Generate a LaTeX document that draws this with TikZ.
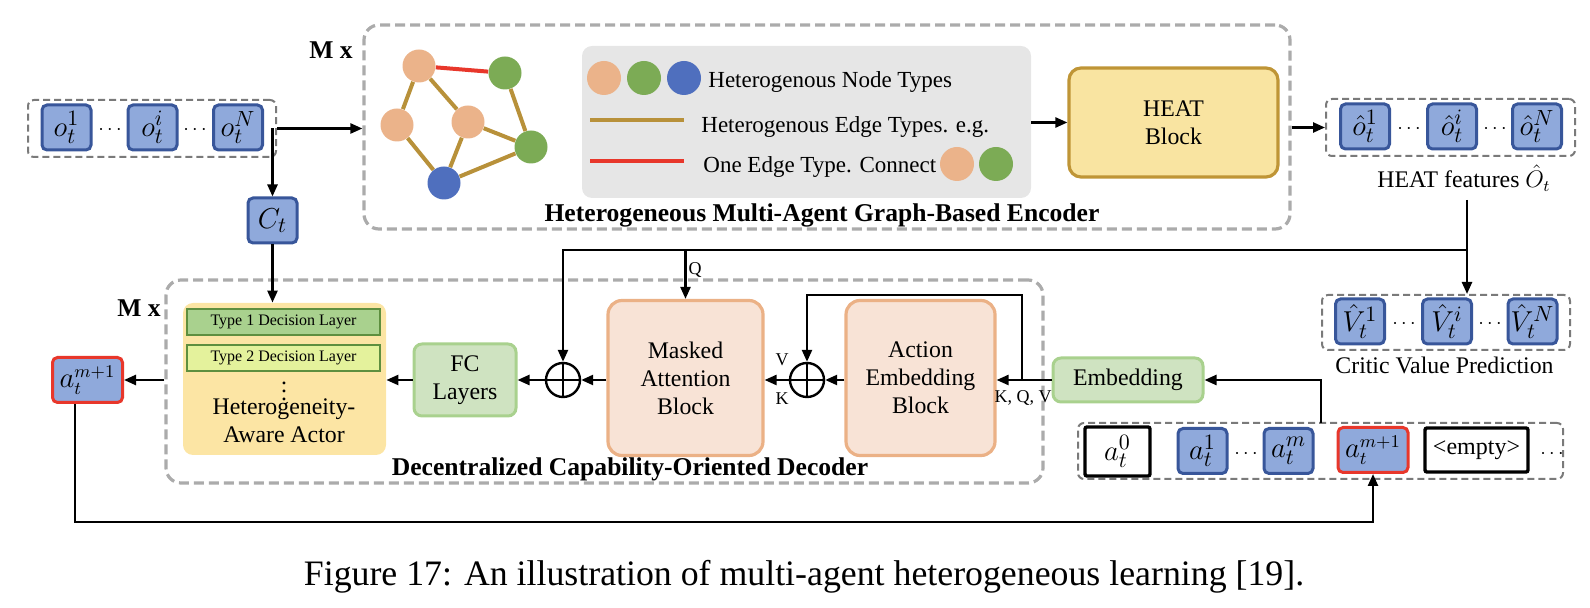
\documentclass[tikz,border=0pt]{standalone}
\usepackage{fontspec}
\setmainfont{Liberation Serif}
\usetikzlibrary{arrows.meta,calc}
\definecolor{bfill}{HTML}{8FA9DB}
\definecolor{bdraw}{HTML}{38569A}
\definecolor{redb}{HTML}{E8372B}
\definecolor{gdash}{HTML}{ABABAB}
\definecolor{gdash2}{HTML}{7A7A7A}
\definecolor{corange}{HTML}{EBB38A}
\definecolor{cgreen}{HTML}{7CAB55}
\definecolor{cblue}{HTML}{4F6FBE}
\definecolor{gold}{HTML}{B8913A}
\definecolor{legbg}{HTML}{E6E6E6}
\definecolor{heatfill}{HTML}{F9E4A1}
\definecolor{heatdraw}{HTML}{BF9536}
\definecolor{actfill}{HTML}{FCE5A4}
\definecolor{tonefill}{HTML}{A9D18E}
\definecolor{ttwofill}{HTML}{E4F29C}
\definecolor{tdraw}{HTML}{5E8F3F}
\definecolor{fcfill}{HTML}{CFE3C1}
\definecolor{fcdraw}{HTML}{A9D18E}
\definecolor{pfill}{HTML}{F8E3D6}
\definecolor{pdraw}{HTML}{EBB186}
\begin{document}
\begin{tikzpicture}[x=0.5pt,y=-0.5pt,
  font=\fontsize{11.9}{14}\selectfont,
  arr/.style={line width=1.2pt,-{Triangle[length=6pt,width=5pt]}},
  bigdash/.style={draw=gdash,line width=1.6pt,dash pattern=on 5pt off 2.5pt,rounded corners=7.5pt,inner sep=0pt},
  smalldash/.style={draw=gdash2,line width=1pt,dash pattern=on 3.5pt off 2pt,rounded corners=3pt,inner sep=0pt},
  vbox/.style={draw=bdraw,fill=bfill,line width=1.5pt,rounded corners=2.5pt,minimum width=24.5pt,minimum height=22.5pt,inner sep=0pt,font=\fontsize{15}{15}\selectfont},
  rbox/.style={vbox,draw=redb,minimum width=35pt,font=\fontsize{13.5}{13.5}\selectfont},
  wbox/.style={draw=black,fill=white,line width=1.7pt,rounded corners=1pt,minimum height=22pt,inner sep=0pt,font=\fontsize{15}{15}\selectfont},
  dotsn/.style={inner sep=0pt,font=\fontsize{10}{10}\selectfont},
  gnode/.style={circle,minimum size=16.5pt,inner sep=0pt},
  gedge/.style={gold,line width=2pt},
  redge/.style={redb,line width=2pt},
  legtext/.style={anchor=base west,inner sep=0pt,font=\fontsize{11.5}{14}\selectfont},
  boldlab/.style={font=\fontsize{12.8}{14}\selectfont\bfseries},
  smalllab/.style={font=\fontsize{9}{10}\selectfont,inner sep=1pt},
  fcstyle/.style={draw=fcdraw,fill=fcfill,line width=1.5pt,rounded corners=4pt,inner sep=0pt,align=center},
  pblk/.style={draw=pdraw,fill=pfill,line width=1.6pt,rounded corners=7pt,inner sep=0pt,align=center},
  oplus/.style={circle,draw,line width=1.2pt,minimum size=17pt,inner sep=0pt,
    path picture={\draw[line width=1.2pt] (path picture bounding box.north) -- (path picture bounding box.south)
      (path picture bounding box.west) -- (path picture bounding box.east);}},
  layer/.style={draw=tdraw,line width=0.8pt,minimum width=96.5pt,minimum height=13pt,inner sep=0pt,font=\fontsize{8}{9}\selectfont}
]
\useasboundingbox (0,0) rectangle (1590,608);

% ---------- big dashed boxes ----------
\node[bigdash,minimum width=463pt,minimum height=102pt] (enc) at (827,127) {};
\node[bigdash,minimum width=438.5pt,minimum height=101.5pt] (dec) at (604.5,381.5) {};

% ---------- observations ----------
\node[smalldash,minimum width=124pt,minimum height=28.5pt] (obs) at (152,128.5) {};
\node[vbox] (o1) at (66.5,127.5) {$o_t^1$};
\node[dotsn] (od1) at (110,130) {$\cdots$};
\node[vbox] (oi) at (152.5,127.5) {$o_t^i$};
\node[dotsn] (od2) at (195,130) {$\cdots$};
\node[vbox] (oN) at (238,127.5) {$o_t^N$};
\node[vbox] (ct) at (272.5,220.5) {$C_t$};

% ---------- encoder ----------
\node[boldlab] (mx1) at (331,50) {M x};
\node[gnode,fill=corange] (g1) at (419,66) {};
\node[gnode,fill=cgreen] (g2) at (505,73) {};
\node[gnode,fill=corange] (g3) at (397,125) {};
\node[gnode,fill=corange] (g4) at (468,122) {};
\node[gnode,fill=cgreen] (g5) at (531,147) {};
\node[gnode,fill=cblue] (g6) at (444,183) {};
\draw[redge] (g1) -- (g2);
\draw[gedge] (g1) -- (g3);
\draw[gedge] (g1) -- (g4);
\draw[gedge] (g2) -- (g5);
\draw[gedge] (g3) -- (g6);
\draw[gedge] (g4) -- (g6);
\draw[gedge] (g4) -- (g5);
\draw[gedge] (g6) -- (g5);

\node[fill=legbg,rounded corners=5pt,minimum width=224.5pt,minimum height=76pt,inner sep=0pt] (leg) at (806.5,122) {};
\node[gnode,minimum size=17pt,fill=corange] (lc1) at (604,78) {};
\node[gnode,minimum size=17pt,fill=cgreen] (lc2) at (644,78) {};
\node[gnode,minimum size=17pt,fill=cblue] (lc3) at (684,78) {};
\node[legtext] (lt1) at (708,88) {Heterogenous Node Types};
\coordinate (gl1) at (590,120);
\coordinate (gl2) at (684,120);
\draw[gedge] (gl1) -- (gl2);
\node[legtext] (lt2) at (701,133) {Heterogenous Edge Types. e.g.};
\coordinate (rl1) at (590,161);
\coordinate (rl2) at (684,161);
\draw[redge] (rl1) -- (rl2);
\node[legtext] (lt3) at (703,173) {One Edge Type. Connect};
\node[gnode,minimum size=17pt,fill=corange] (lc4) at (957,164) {};
\node[gnode,minimum size=17pt,fill=cgreen] (lc5) at (996,164) {};

\node[boldlab,anchor=base] (enct) at (822,222) {Heterogeneous Multi-Agent Graph-Based Encoder};

\node[draw=heatdraw,fill=heatfill,line width=1.6pt,rounded corners=6pt,minimum width=104.5pt,minimum height=54.5pt,align=center] (heat) at (1173.5,122.5) {HEAT\\Block};

% ---------- HEAT features ----------
\node[smalldash,minimum width=124.5pt,minimum height=28.5pt] (hf) at (1450.5,127.5) {};
\node[vbox] (h1) at (1365,126.5) {$\hat{o}_t^1$};
\node[dotsn] (hd1) at (1409,129) {$\cdots$};
\node[vbox] (hi) at (1452,126.5) {$\hat{o}_t^i$};
\node[dotsn] (hd2) at (1495,129) {$\cdots$};
\node[vbox] (hN) at (1537,126.5) {$\hat{o}_t^N$};
\node (hfl) at (1464,178) {HEAT features $\hat{O}_t$};

% ---------- critic ----------
\node[smalldash,minimum width=124pt,minimum height=27.5pt] (crit) at (1446,322.5) {};
\node[vbox] (v1) at (1360,321.5) {$\hat{V}_t^1$};
\node[dotsn] (vd1) at (1404,324) {$\cdots$};
\node[vbox] (vi) at (1447,321.5) {$\hat{V}_t^i$};
\node[dotsn] (vd2) at (1490,324) {$\cdots$};
\node[vbox] (vN) at (1532.5,321.5) {$\hat{V}_t^N$};
\node (critl) at (1444.5,365) {Critic Value Prediction};

% ---------- decoder ----------
\node[boldlab] (mx2) at (139,308) {M x};
\node[fill=actfill,rounded corners=5pt,minimum width=101.5pt,minimum height=76pt,inner sep=0pt] (actor) at (284.5,379) {};
\node[layer,fill=tonefill] (ty1) at (283.5,322) {Type 1 Decision Layer};
\node[layer,fill=ttwofill] (ty2) at (283.5,358) {Type 2 Decision Layer};
\node[inner sep=0pt] (vdots) at (284,385) {$\vdots$};
\node[align=center,inner sep=0pt] (actl) at (284,421) {Heterogeneity-\\Aware Actor};

\node[fcstyle,minimum width=51pt,minimum height=36pt] (fc) at (465,380) {FC\\Layers};
\node[oplus] (p1) at (563,380) {};
\node[pblk,minimum width=77.5pt,minimum height=77.5pt] (mask) at (685.5,378) {Masked\\Attention\\Block};
\node[oplus] (p2) at (807,380) {};
\node[pblk,minimum width=74.5pt,minimum height=77.5pt] (act) at (920.5,378) {Action\\Embedding\\Block};
\node[fcstyle,minimum width=75pt,minimum height=22pt] (emb) at (1128,380) {Embedding};
\node[boldlab,anchor=base] (dect) at (630,476) {Decentralized Capability-Oriented Decoder};

\node[smalllab] (lv) at (782,360) {V};
\node[smalllab] (lk) at (782,399) {K};
\node[smalllab] (lkqv) at (1023,398) {K, Q, V};

\node[rbox] (am1L) at (87.5,380) {$a_t^{m+1}$};

% ---------- action sequence ----------
\node[smalldash,minimum width=242.5pt,minimum height=28pt] (ag) at (1320.5,451) {};
\node[wbox,minimum width=32.5pt,minimum height=24.5pt] (a0) at (1117.5,451.5) {$a_t^0$};
\node[vbox] (a1) at (1202.5,451) {$a_t^1$};
\node[dotsn] (ad1) at (1246,454) {$\cdots$};
\node[vbox] (am) at (1288.5,451) {$a_t^m$};
\node[rbox] (am1) at (1373,450) {$a_t^{m+1}$};
\node[wbox,minimum width=51.5pt,font=\fontsize{12}{14}\selectfont] (emp) at (1476.5,450) {<empty>};
\node[dotsn] (ad2) at (1552,454) {$\cdots$};

\node[font=\fontsize{17.9}{20}\selectfont] (cap) at (804,577) {Figure 17: An illustration of multi-agent heterogeneous learning [19].};

% ---------- connectors ----------
\draw[arr] (obs.east) -- (obs.east -| enc.west);
\draw[arr] (ct.north |- obs.east) -- (ct.north);
\draw[arr] (ct.south) -- (ct.south |- actor.north);
\draw[arr] (heat.west -| leg.east) -- (heat.west);
\draw[arr] (hf.west -| enc.east) -- (hf.west);
\coordinate (hstart) at (1467,200);
\coordinate (hj) at (1467,250);
\draw[arr] (hstart) -- (hstart |- crit.north);
\draw[arr] (hj) -| (p1.north);
\draw[arr] (mask.north |- hj) -- node[smalllab,right,pos=0.4] (lq) {Q} (mask.north);
\draw[arr] (fc.west) -- (fc.west -| actor.east);
\draw[arr] (p1.west) -- (fc.east);
\draw[arr] (mask.west |- p1) -- (p1.east);
\draw[arr] (p2.west) -- (p2.west -| mask.east);
\draw[arr] (act.west |- p2) -- (p2.east);
\coordinate (kqv) at (1022,380);
\coordinate (lp) at (807,295);
\draw[arr] (emb.west) -- (emb.west -| act.east);
\draw[arr] (kqv) |- (lp) -- (p2.north);
\coordinate (aup) at (1321,423);
\draw[arr] (aup) |- (emb.east);
\draw[arr] (dec.west |- am1L.east) -- (am1L.east);
\coordinate (fb) at (75,522);
\draw[arr] (am1L.south -| fb) -- (fb) -| (am1.south);
\end{tikzpicture}
\end{document}
